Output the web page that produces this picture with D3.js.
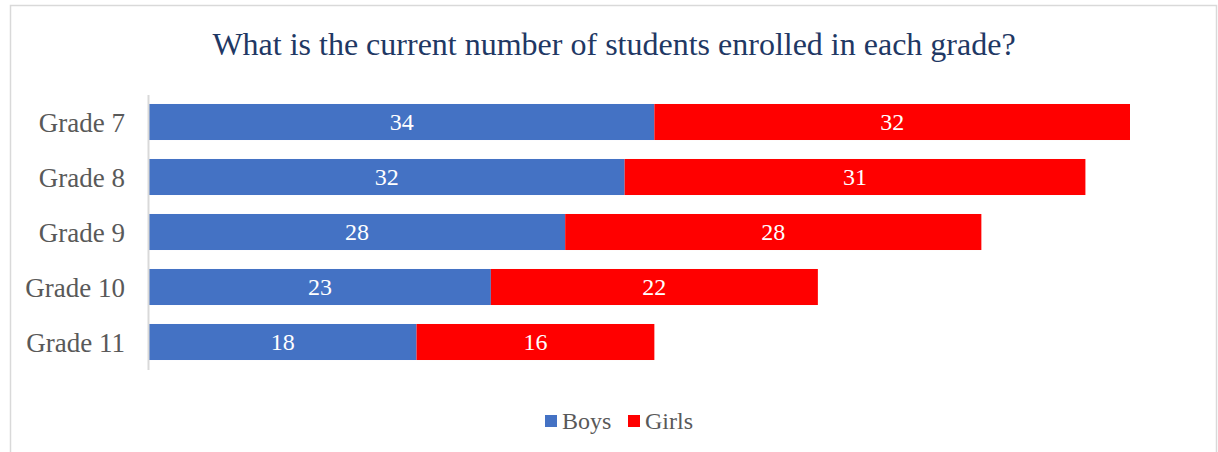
<!DOCTYPE html>
<html>
<head>
<meta charset="utf-8">
<script src="https://cdn.jsdelivr.net/npm/d3@7"></script>
<style>
  html, body { margin: 0; padding: 0; background: #fff; }
  svg { display: block; }
  text { font-family: "Liberation Serif", "Times New Roman", serif; }
</style>
</head>
<body>
<svg id="chart" width="1218" height="452"></svg>
<script>
// Enrollment by grade, split by boys and girls
const grades = ["Grade 7", "Grade 8", "Grade 9", "Grade 10", "Grade 11"];
const boys   = [34, 32, 28, 23, 18];
const girls  = [32, 31, 28, 22, 16];
const seriesNames = ["Boys", "Girls"];
const seriesColors = ["#4472C4", "#FF0000"];

const svg = d3.select("#chart");

// chart frame
svg.append("rect")
  .attr("x", 10.5).attr("y", 5.5)
  .attr("width", 1206).attr("height", 460)
  .attr("fill", "#fff").attr("stroke", "#d9d9d9").attr("stroke-width", 1.5);

// title
svg.append("text")
  .attr("x", 614).attr("y", 55)
  .attr("text-anchor", "middle")
  .attr("fill", "#1F3864")
  .attr("font-size", 32)
  .text("What is the current number of students enrolled in each grade?");

const x0 = 149;
const x = d3.scaleLinear().domain([0, 66]).range([x0, x0 + 981]);
const y = d3.scaleBand().domain(grades).range([94.5, 369.5]).paddingInner(0.345).paddingOuter(0.1725);

const rows = grades.map((g, i) => ({ grade: g, values: [boys[i], girls[i]] }));
const stacked = d3.stack().keys([0, 1]).value((d, k) => d.values[k])(rows);

stacked.forEach((layer, k) => {
  const g = svg.append("g");
  g.selectAll("rect").data(layer).join("rect")
    .attr("x", d => x(d[0]))
    .attr("y", d => y(d.data.grade))
    .attr("width", d => x(d[1]) - x(d[0]))
    .attr("height", y.bandwidth())
    .attr("fill", seriesColors[k]);
  g.selectAll("text").data(layer).join("text")
    .attr("x", d => (x(d[0]) + x(d[1])) / 2)
    .attr("y", d => y(d.data.grade) + y.bandwidth() / 2)
    .attr("dy", "0.35em")
    .attr("text-anchor", "middle")
    .attr("fill", "#fff")
    .attr("font-size", 24)
    .text(d => d[1] - d[0]);
});

// category axis
const axis = svg.append("g").attr("transform", `translate(${x0 - 1},0)`)
  .call(d3.axisLeft(y).tickSize(0).tickPadding(23));
axis.select(".domain").attr("stroke", "#d9d9d9").attr("stroke-width", 2);
axis.selectAll("text")
  .attr("fill", "#595959")
  .attr("font-size", 27)
  .attr("dy", "0.36em")
  .attr("font-family", "Liberation Serif, Times New Roman, serif");

// legend
const legend = svg.append("g");
const legendX = [545, 628];
seriesNames.forEach((name, i) => {
  const lx = legendX[i];
  legend.append("rect")
    .attr("x", lx).attr("y", 415)
    .attr("width", 12).attr("height", 12)
    .attr("fill", seriesColors[i]);
  legend.append("text")
    .attr("x", lx + 17).attr("y", 429)
    .attr("fill", "#595959")
    .attr("font-size", 24)
    .text(name);
});
</script>
</body>
</html>
